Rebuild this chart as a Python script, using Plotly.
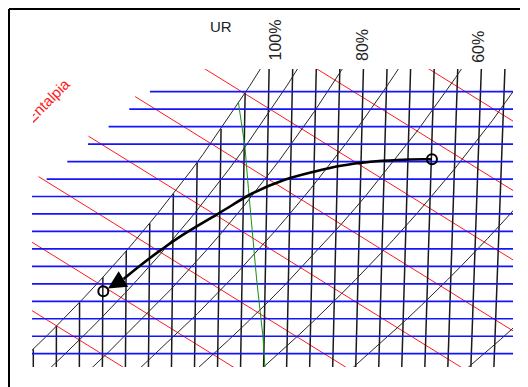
import numpy as np
import plotly.graph_objects as go

# ---------------- data ----------------
# x unit: dry-bulb grid step (one vertical line per unit); y unit: humidity grid step (one blue line per unit)
dry_bulb_lines = list(range(0, 21))          # vertical black lines
humidity_lines = list(range(0, 16))          # horizontal blue lines
dry_bulb_tilt = 0.0014                       # dry-bulb lines lean right with height

# saturation curve (UR 100%) points
sat_t = [-0.80, -0.01, 2.54, 6.23, 6.88, 9.27, 9.84, 9.99]
sat_w = [-0.76, 0.27, 3.65, 9.47, 10.52, 15.00, 16.28, 16.60]

# other relative-humidity curves: shift from saturation curve at bottom / top
rh_levels = [90, 80, 70, 60, 50, 40, 30]
rh_shift_bottom = [1.59, 3.39, 5.50, 8.01, 10.81, 14.72, 19.71]
rh_shift_top = [1.61, 3.56, 5.99, 8.73, 11.68, 15.90, 21.30]

# enthalpy lines: where they meet the top edge, and their slope
enthalpy_top_t = [-16.98, -12.19, -7.31, -2.31, 2.49, 7.46, 12.32, 17.18]
enthalpy_slope = -0.8175

# left boundary of the blue / red line field
field_edge_w = [10.0, 15.0]
field_edge_t = [0.58, 5.065]
red_edge_shift = -0.478

# green line
green_t = [8.90, 9.19, 9.34, 9.70, 9.97, 10.08]
green_w = [14.43, 11.85, 9.47, 4.22, 1.01, -1.2]

# process (thick black curve with arrow)
proc_t = [17.31, 16.96, 15.81, 14.65, 13.35, 12.19, 10.89, 9.50, 8.11, 6.44, 5.50, 4.63, 3.92]
proc_w = [11.13, 11.13, 11.09, 10.99, 10.76, 10.42, 9.94, 9.17, 8.08, 6.76, 5.90, 5.04, 4.28]
arrow_tip = (3.24, 3.73)
state_t = [17.31, 3.04]
state_w = [11.13, 3.57]

X_RANGE = [-0.0564, 20.829]
Y_RANGE = [-0.7614, 16.30]
W_BOT, W_TOP = -0.9, 16.6

# ---------------- build ----------------
fig = go.Figure()
sat_fit = np.polyfit(sat_w, sat_t, 3)
def t_sat(w):
    return np.polyval(sat_fit, w)

edge_fit = np.polyfit(field_edge_w, field_edge_t, 1)
def t_edge(w):
    return np.polyval(edge_fit, w)

def add_line(xs, ys, color, width):
    fig.add_trace(go.Scatter(x=xs, y=ys, mode="lines", line=dict(color=color, width=width),
                             hoverinfo="skip"))

# red enthalpy lines
for t0 in enthalpy_top_t:
    tt = np.linspace(t0 - 40, 24, 400)
    ww = Y_RANGE[1] + enthalpy_slope * (tt - t0)
    keep = tt >= t_edge(ww) + red_edge_shift
    add_line(tt[keep], ww[keep], "#ff1a1a", 1)

# vertical dry-bulb lines
wg = np.linspace(W_BOT, W_TOP, 2000)
for k in dry_bulb_lines:
    tk = k * (1 + dry_bulb_tilt * (wg - Y_RANGE[0]))
    keep = tk >= t_sat(wg)
    add_line(tk[keep], wg[keep], "#1a1a1a", 1.5)

# saturation + RH curves
add_line(t_sat(wg), wg, "#262626", 1)
for sb, st in zip(rh_shift_bottom, rh_shift_top):
    frac = (wg - Y_RANGE[0]) / (Y_RANGE[1] - Y_RANGE[0])
    add_line(t_sat(wg) + sb + (st - sb) * frac, wg, "#262626", 1)

# blue humidity lines
for w in humidity_lines:
    add_line([float(t_edge(w)), 25], [w, w], "#1414ff", 1.7)

# green line
add_line(green_t, green_w, "#1a8c1a", 1)

# process
fig.add_trace(go.Scatter(x=proc_t, y=proc_w, mode="lines", line=dict(color="black", width=2.6, shape="spline"),
                         hoverinfo="skip"))
fig.add_trace(go.Scatter(x=state_t, y=state_w, mode="markers", cliponaxis=False,
                         marker=dict(symbol="circle-open", size=10, color="black", line=dict(width=2)),
                         hoverinfo="skip"))

# page places the figure 8 px in from the window corner
OFF = 8
FW, FH = 528 - OFF, 387 - OFF
PW, PH = 481, 298
L, T = 32 - OFF, 69 - OFF

def px(x, y):
    """window pixel -> paper fraction"""
    return (x - OFF - L) / PW, (T + PH - (y - OFF)) / PH

ann = []
ann.append(dict(x=arrow_tip[0], y=arrow_tip[1], ax=proc_t[-1], ay=proc_w[-1], xref="x", yref="y",
                axref="x", ayref="y", showarrow=True, arrowhead=2, arrowsize=1.4, arrowwidth=2.6,
                arrowcolor="black", text=""))
for txt, (cx, cy), ang, size in [("UR", (221, 26), 0, 15), ("100%", (274.5, 40), -90, 16),
                                 ("80%", (362.5, 45.5), -90, 16), ("60%", (478.3, 46.5), -90, 16)]:
    x, y = px(cx, cy)
    ann.append(dict(x=x, y=y, xref="paper", yref="paper", text=txt, showarrow=False, textangle=ang,
                    font=dict(family="Liberation Sans, Arial", size=size, color="#222222"),
                    xanchor="center", yanchor="middle"))
x, y = px(48, 101)
ann.append(dict(x=x, y=y, xref="paper", yref="paper", text="Entalpia", showarrow=False, textangle=-45,
                font=dict(family="Liberation Sans, Arial", size=15, color="#ff2020"),
                xanchor="center", yanchor="middle"))
# white cover: the label is clipped at the plot's left edge
x, y = px(10.5, 60)
ann.append(dict(x=x, y=y, xref="paper", yref="paper", text=" ", showarrow=False, bgcolor="white",
                width=21.5, height=90, borderpad=0, borderwidth=0, xanchor="left", yanchor="top"))
fig.update_layout(annotations=ann)

# outer frame (top and left edges visible)
x0, y0 = px(9, 9)
x1, _ = px(560, 0)
_, y1 = px(0, 420)
fig.add_shape(type="line", xref="paper", yref="paper", x0=x0, y0=y0, x1=x1, y1=y0,
              line=dict(color="black", width=2))
fig.add_shape(type="line", xref="paper", yref="paper", x0=x0, y0=y0, x1=x0, y1=y1,
              line=dict(color="black", width=2))

fig.update_layout(width=FW, height=FH, margin=dict(l=L, r=FW - L - PW, t=T, b=FH - T - PH),
                  paper_bgcolor="white", plot_bgcolor="white", showlegend=False,
                  xaxis=dict(range=X_RANGE, visible=False, fixedrange=True),
                  yaxis=dict(range=Y_RANGE, visible=False, fixedrange=True))
fig.write_html("out.html", config={"displayModeBar": False})
